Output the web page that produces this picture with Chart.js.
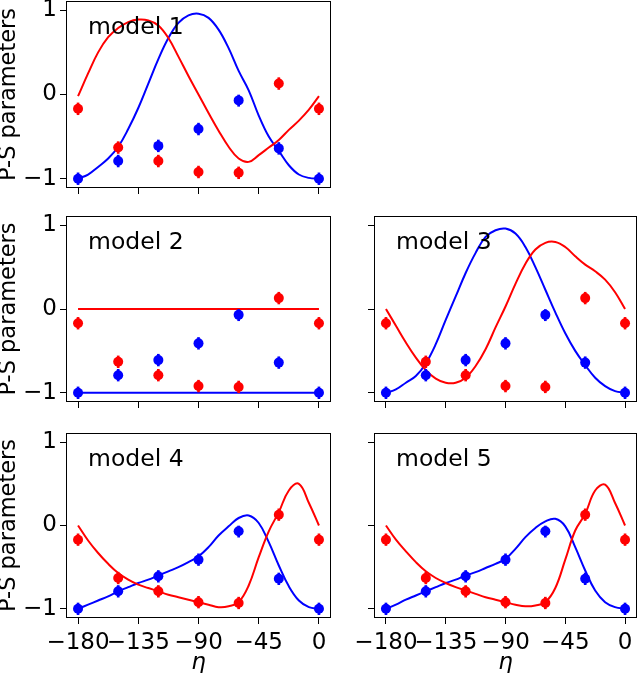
<!DOCTYPE html>
<html>
<head>
<meta charset="utf-8">
<script src="https://cdn.jsdelivr.net/npm/chart.js@4.4.0/dist/chart.umd.min.js"></script>
<style>
  html, body { margin: 0; padding: 0; background: #fff; }
  #fig { position: relative; width: 640px; height: 673px; overflow: hidden; }
  #fig canvas { position: absolute; }
</style>
</head>
<body>
<div id="fig">
  <canvas id="m1" width="340" height="200" style="left:0;top:0"></canvas>
  <canvas id="m2" width="340" height="210" style="left:0;top:200px"></canvas>
  <canvas id="m3" width="300" height="210" style="left:340px;top:200px"></canvas>
  <canvas id="m4" width="340" height="263" style="left:0;top:410px"></canvas>
  <canvas id="m5" width="300" height="263" style="left:340px;top:410px"></canvas>
</div>
<script>
// measured points (same in every panel)
const eta = [-180, -150, -120, -90, -60, -30, 0];
const redObs = [-0.17, -0.63, -0.79, -0.92, -0.93, 0.13, -0.17];
const blueObs = [-1.00, -0.79, -0.61, -0.41, -0.07, -0.64, -1.00];
const redErr = [0.07, 0.07, 0.07, 0.07, 0.07, 0.07, 0.07];
const blueErr = [0.07, 0.07, 0.07, 0.07, 0.07, 0.07, 0.07];

// model curves
const etaCurve = [-180, -172.5, -165, -157.5, -150, -142.5, -135, -127.5, -120, -112.5, -105, -97.5,
                  -90, -82.5, -75, -67.5, -60, -52.5, -45, -37.5, -30, -22.5, -15, -7.5, 0];
const m1Red  = [-0.02, 0.25, 0.50, 0.68, 0.79, 0.86, 0.89, 0.88, 0.82, 0.67, 0.45, 0.22,
                0.00, -0.22, -0.43, -0.62, -0.76, -0.80, -0.72, -0.63, -0.54, -0.42, -0.31, -0.18, -0.02];
const m1Blue = [-1.00, -0.95, -0.86, -0.76, -0.62, -0.41, -0.16, 0.13, 0.42, 0.67, 0.85, 0.94,
                0.96, 0.91, 0.77, 0.55, 0.28, 0.05, -0.25, -0.50, -0.67, -0.84, -0.95, -0.99, -1.00];
const m2Eta  = [-180, 0];
const m2Red  = [0, 0];
const m2Blue = [-1, -1];
const m3Red  = [0.00, -0.20, -0.40, -0.58, -0.73, -0.83, -0.88, -0.88, -0.82, -0.68, -0.48, -0.22,
                0.03, 0.30, 0.54, 0.71, 0.79, 0.80, 0.74, 0.63, 0.53, 0.45, 0.35, 0.20, 0.00];
const m3Blue = [-1.00, -0.96, -0.88, -0.80, -0.65, -0.42, -0.13, 0.15, 0.43, 0.67, 0.86, 0.94,
                0.96, 0.90, 0.74, 0.50, 0.23, -0.04, -0.29, -0.50, -0.67, -0.82, -0.92, -0.98, -1.00];
const m4Red  = [0.00, -0.18, -0.33, -0.46, -0.57, -0.65, -0.71, -0.75, -0.79, -0.83, -0.86, -0.89,
                -0.92, -0.95, -0.98, -0.97, -0.92, -0.72, -0.38, -0.07, 0.16, 0.42, 0.50, 0.27, 0.00];
const m4Blue = [-1.00, -0.95, -0.90, -0.85, -0.79, -0.74, -0.69, -0.65, -0.60, -0.55, -0.50, -0.44,
                -0.37, -0.26, -0.12, -0.01, 0.09, 0.12, 0.03, -0.20, -0.48, -0.73, -0.90, -0.98, -1.00];
const m5Red  = [0.00, -0.17, -0.31, -0.44, -0.55, -0.63, -0.69, -0.74, -0.78, -0.82, -0.86, -0.89,
                -0.92, -0.95, -0.97, -0.96, -0.92, -0.75, -0.41, -0.06, 0.14, 0.42, 0.49, 0.27, 0.00];
const m5Blue = [-1.00, -0.95, -0.89, -0.84, -0.79, -0.74, -0.69, -0.65, -0.60, -0.56, -0.51, -0.46,
                -0.40, -0.28, -0.14, -0.03, 0.05, 0.08, -0.01, -0.26, -0.54, -0.78, -0.92, -0.98, -1.00];

const xTicks = [-180, -135, -90, -45, 0];
const yTicks = [-1, 0, 1];

const RED = '#ff0000';
const BLUE = '#0000ff';
const FONT = '"DejaVu Sans", sans-serif';

Chart.defaults.font.family = FONT;
Chart.defaults.color = '#000';

function pts(xs, ys) {
    return xs.map((x, i) => ({x: x, y: ys[i]}));
}
function errBars(xs, ys, es) {
    return xs.map((x, i) => ({x: x, y: [ys[i] - es[i], ys[i] + es[i]]}));
}
function fmt(v) {
    return v < 0 ? '\u2212' + Math.abs(v) : String(v);
}

// matplotlib-style box round the plot area
const framePlugin = {
    id: 'frame',
    afterDatasetsDraw(chart) {
        const {ctx, chartArea: a} = chart;
        ctx.save();
        ctx.strokeStyle = '#000';
        ctx.lineWidth = 1;
        ctx.strokeRect(a.left + 0.5, a.top + 0.5, a.right - a.left - 1, a.bottom - a.top - 1);
        ctx.restore();
    }
};

const labelPlugin = {
    id: 'panelLabel',
    afterDatasetsDraw(chart, args, opts) {
        const {ctx, chartArea: a} = chart;
        ctx.save();
        ctx.font = '23.5px ' + FONT;
        ctx.fillStyle = '#000';
        ctx.textBaseline = 'alphabetic';
        ctx.fillText(opts.text, a.left + 22, a.top + 33);
        ctx.restore();
    }
};

function buildPanel(id, p) {
    const zeroPad = s => { s.paddingLeft = 0; s.paddingRight = 0; s.paddingTop = 0; s.paddingBottom = 0; };
    return new Chart(document.getElementById(id), {
        type: 'scatter',
        data: {
            datasets: [
                {type: 'scatter', data: pts(eta, blueObs), backgroundColor: BLUE, borderColor: BLUE,
                 pointRadius: 5, pointHoverRadius: 5, borderWidth: 0, order: 0},
                {type: 'scatter', data: pts(eta, redObs), backgroundColor: RED, borderColor: RED,
                 pointRadius: 5, pointHoverRadius: 5, borderWidth: 0, order: 0},
                {type: 'bar', data: errBars(eta, blueObs, blueErr), backgroundColor: BLUE,
                 barThickness: 2, grouped: false, order: 1},
                {type: 'bar', data: errBars(eta, redObs, redErr), backgroundColor: RED,
                 barThickness: 2, grouped: false, order: 1},
                {type: 'line', data: pts(p.curveEta, p.red), borderColor: RED, borderWidth: 2,
                 pointRadius: 0, tension: 0.4, fill: false, order: 2},
                {type: 'line', data: pts(p.curveEta, p.blue), borderColor: BLUE, borderWidth: 2,
                 pointRadius: 0, tension: 0.4, fill: false, order: 2}
            ]
        },
        options: {
            responsive: false,
            animation: false,
            events: [],
            layout: {autoPadding: false, padding: p.pad},
            plugins: {
                legend: {display: false},
                tooltip: {enabled: false},
                panelLabel: {text: p.label}
            },
            scales: {
                x: {
                    type: 'linear', min: -189, max: 9, bounds: 'data', offset: false,
                    afterBuildTicks: s => { s.ticks = xTicks.map(v => ({value: v})); },
                    afterFit: s => { s.height = p.xH; zeroPad(s); },
                    ticks: {display: p.showX, color: '#000', font: {size: 23},
                            padding: 5, maxRotation: 0, minRotation: 0, autoSkip: false, callback: fmt},
                    grid: {display: true, drawOnChartArea: false, drawTicks: true, tickLength: 6,
                           tickWidth: 1, tickColor: '#000', offset: false},
                    border: {display: false},
                    title: {display: p.showX, text: '\u03b7', color: '#000',
                            font: {size: 23, style: 'italic', lineHeight: 0.9},
                            padding: {top: 0, bottom: 0}}
                },
                y: {
                    type: 'linear', min: -1.11, max: 1.11, bounds: 'data',
                    afterBuildTicks: s => { s.ticks = yTicks.map(v => ({value: v})); },
                    afterFit: s => { s.width = p.yW; zeroPad(s); },
                    ticks: {display: p.showY, color: '#000', font: {size: 23},
                            padding: 3, autoSkip: false, callback: fmt},
                    grid: {display: true, drawOnChartArea: false, drawTicks: true, tickLength: 6,
                           tickWidth: 1, tickColor: '#000'},
                    border: {display: false},
                    title: {display: p.showY, text: 'P-S parameters', color: '#000',
                            font: {size: 22.5, lineHeight: 0.85},
                            padding: {top: 0, bottom: 0}}
                }
            }
        },
        plugins: [framePlugin, labelPlugin]
    });
}

buildPanel('m1', {label: 'model 1', curveEta: etaCurve, red: m1Red, blue: m1Blue,
    showX: false, showY: true, yW: 66, xH: 12, pad: {top: 1, right: 9, bottom: 0, left: 0}});
buildPanel('m2', {label: 'model 2', curveEta: m2Eta, red: m2Red, blue: m2Blue,
    showX: false, showY: true, yW: 66, xH: 8, pad: {top: 16, right: 9, bottom: 0, left: 0}});
buildPanel('m3', {label: 'model 3', curveEta: etaCurve, red: m3Red, blue: m3Blue,
    showX: false, showY: false, yW: 34, xH: 8, pad: {top: 16, right: 3, bottom: 0, left: 0}});
buildPanel('m4', {label: 'model 4', curveEta: etaCurve, red: m4Red, blue: m4Blue,
    showX: true, showY: true, yW: 66, xH: 55, pad: {top: 23, right: 9, bottom: 0, left: 0}});
buildPanel('m5', {label: 'model 5', curveEta: etaCurve, red: m5Red, blue: m5Blue,
    showX: true, showY: false, yW: 34, xH: 55, pad: {top: 23, right: 3, bottom: 0, left: 0}});
</script>
</body>
</html>
